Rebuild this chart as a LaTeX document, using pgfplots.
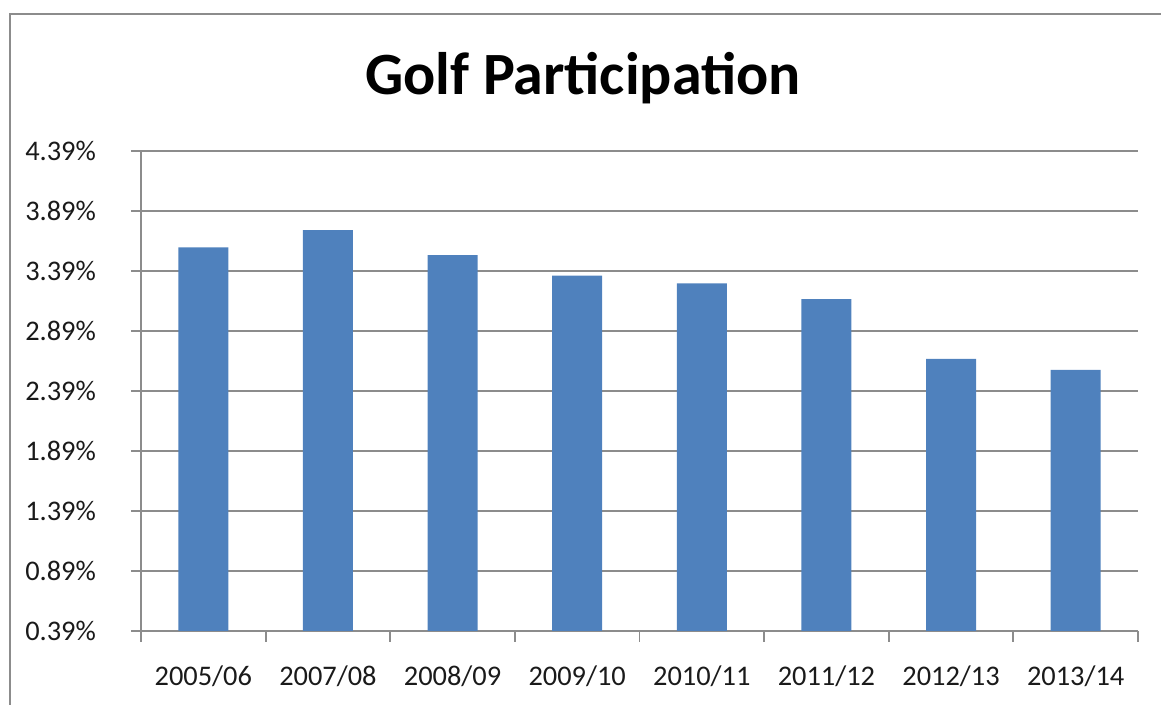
\documentclass[border=0pt]{standalone}
\usepackage{pgfplots}
\pgfplotsset{compat=1.18}
\usepackage{fontspec}
\setmainfont{Carlito}
\definecolor{barblue}{HTML}{4F81BD}
\definecolor{gridgray}{HTML}{8C8C8C}
\definecolor{txt}{HTML}{1A1A1A}
\begin{document}
\begin{tikzpicture}
  % page = 1161 x 705 px at 0.5pt per px, origin at the axis' lower left corner
  \useasboundingbox (-70.5pt,-37pt) rectangle (510pt,315.5pt);
  \draw[gridgray, line width=1pt] (-65.5pt,-40pt) -- (-65.5pt,308.5pt) -- (515pt,308.5pt);
  \node[anchor=base, font=\fontsize{30}{36}\selectfont\bfseries, text=black] at (221pt,268pt) {Golf Participation};
  \begin{axis}[
    at={(0pt,0pt)}, anchor=south west,
    scale only axis,
    width=498.5pt, height=240pt,
    xmin=-0.5, xmax=7.5,
    ymin=0.39, ymax=4.39,
    axis x line*=bottom, axis y line*=left,
    axis line style={gridgray, line width=0.9pt, -},
    tick align=outside,
    tick style={gridgray, line width=0.9pt},
    xtick={0,...,7},
    xticklabels={2005/06,2007/08,2008/09,2009/10,2010/11,2011/12,2012/13,2013/14},
    major x tick style={draw=none},
    minor xtick={-0.5,0.5,...,7.5},
    minor tick length=5.5pt,
    ytick={0.39,0.89,1.39,1.89,2.39,2.89,3.39,3.89,4.39},
    yticklabels={0.39\%,0.89\%,1.39\%,1.89\%,2.39\%,2.89\%,3.39\%,3.89\%,4.39\%},
    major tick length=5pt,
    ymajorgrids,
    grid style={gridgray, line width=0.9pt},
    tick label style={font=\fontsize{14.2}{17}\selectfont, text=txt},
    xticklabel style={anchor=north, yshift=-9pt},
    yticklabel style={anchor=east, xshift=-14pt},
    ybar, bar width=25pt,
    clip=false,
  ]
  \addplot[fill=barblue, draw=none] coordinates {
    (0,3.586) (1,3.730) (2,3.522) (3,3.352)
    (4,3.286) (5,3.155) (6,2.658) (7,2.567)};
  \end{axis}
\end{tikzpicture}
\end{document}
